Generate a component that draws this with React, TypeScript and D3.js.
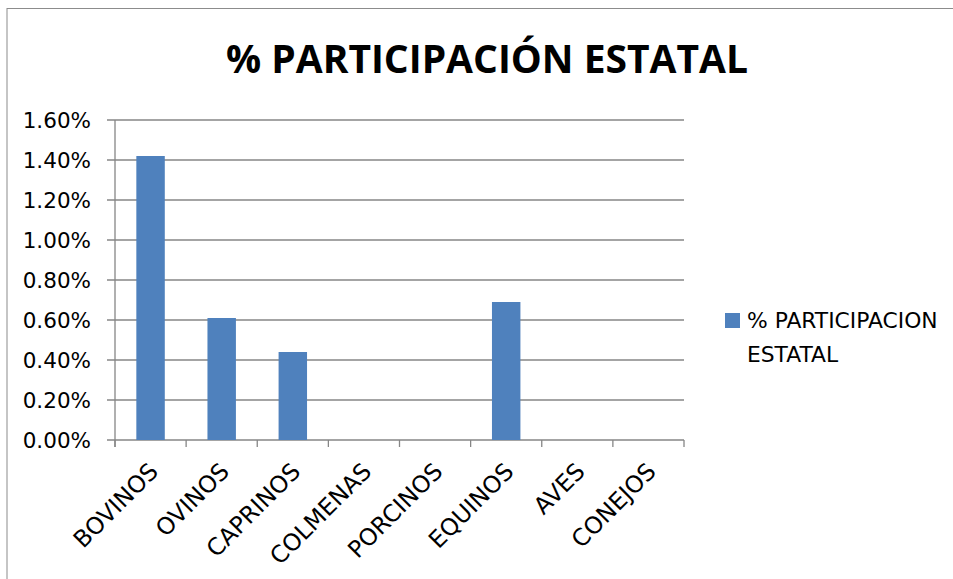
import React from "react";
import * as d3 from "d3";

const categories = ["BOVINOS", "OVINOS", "CAPRINOS", "COLMENAS", "PORCINOS", "EQUINOS", "AVES", "CONEJOS"];
const values = [0.0142, 0.0061, 0.0044, 0, 0, 0.0069, 0, 0];
const yTicks = [0, 0.002, 0.004, 0.006, 0.008, 0.01, 0.012, 0.014, 0.016];
const title = "% PARTICIPACIÓN ESTATAL";
const seriesName = ["% PARTICIPACION", "ESTATAL"];

const W = 953;
const H = 579;
const plot = { left: 115, right: 684, top: 120, bottom: 440 };
const grid = "#868686";
const barColor = "#4F81BD";
const font = "'DejaVu Sans', sans-serif";

export default function App() {
  const x = d3.scaleBand<string>().domain(categories).range([plot.left, plot.right]).paddingInner(0.6).paddingOuter(0.3);
  const xb = d3.scaleBand<string>().domain(categories).range([plot.left, plot.right]);
  const y = d3.scaleLinear().domain([0, 0.016]).range([plot.bottom, plot.top]);
  const fmt = d3.format(".2%");
  const boundaries = d3.range(categories.length + 1).map((i) => plot.left + i * xb.step());

  return (
    <svg width={W} height={H} style={{ position: "absolute", left: 0, top: 0, background: "#fff" }}>
      <rect x={7} y={8.5} width={W + 20} height={H + 20} fill="#fff" stroke="#8c8c8c" strokeWidth={1} />
      <text x={487} y={73} textAnchor="middle" fontFamily="'Open Sans', sans-serif" fontWeight="bold" fontSize={39} fill="#000">
        {title}
      </text>
      {yTicks.map((t) => (
        <g key={t}>
          <line x1={plot.left - 8} x2={plot.right} y1={y(t)} y2={y(t)} stroke={grid} strokeWidth={1.3} />
          <text x={91} y={y(t)} dy="0.36em" textAnchor="end" fontFamily={font} fontSize={21.5} fill="#000">
            {fmt(t)}
          </text>
        </g>
      ))}
      <line x1={plot.left} x2={plot.left} y1={plot.top} y2={plot.bottom + 7} stroke={grid} strokeWidth={1.3} />
      {boundaries.map((b, i) => (
        <line key={i} x1={b} x2={b} y1={plot.bottom} y2={plot.bottom + 7} stroke={grid} strokeWidth={1.3} />
      ))}
      {categories.map((c, i) => (
        <rect key={c} x={x(c)} width={x.bandwidth()} y={y(values[i])} height={plot.bottom - y(values[i])} fill={barColor} />
      ))}
      {categories.map((c) => {
        const cx = (xb(c) as number) + xb.bandwidth() / 2;
        return (
          <text
            key={c}
            transform={`translate(${cx + 3},${467}) rotate(-45)`}
            textAnchor="end"
            dy="0.36em"
            fontFamily={font}
            fontSize={23.5}
            fill="#000"
          >
            {c}
          </text>
        );
      })}
      <rect x={725} y={313} width={15} height={15} fill={barColor} />
      <text x={747} y={328} fontFamily={font} fontSize={21.8} fill="#000">
        {seriesName[0]}
      </text>
      <text x={747} y={362} fontFamily={font} fontSize={21.8} fill="#000">
        {seriesName[1]}
      </text>
    </svg>
  );
}
